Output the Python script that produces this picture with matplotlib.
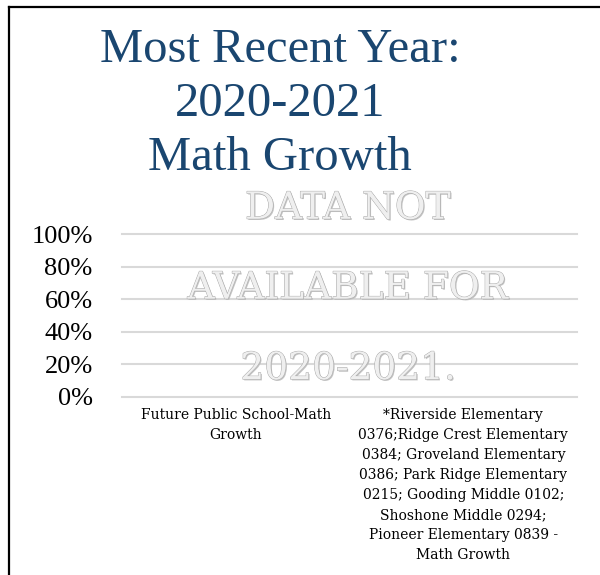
import numpy as np
import matplotlib
matplotlib.use("Agg")
import matplotlib.pyplot as plt
import matplotlib.patheffects as pe
from matplotlib.lines import Line2D

# Data
categories = [
    "Future Public School-Math\nGrowth",
    "*Riverside Elementary\n0376;Ridge Crest Elementary\n0384; Groveland Elementary\n0386; Park Ridge Elementary\n0215; Gooding Middle 0102;\nShoshone Middle 0294;\nPioneer Elementary 0839 -\nMath Growth",
]
values = [np.nan, np.nan]  # no data for this year
y_ticks = [0, 0.2, 0.4, 0.6, 0.8, 1.0]
y_labels = ["0%", "20%", "40%", "60%", "80%", "100%"]
title = "Most Recent Year:\n2020-2021\nMath Growth"
watermark = ["DATA NOT", "AVAILABLE FOR", "2020-2021."]

plt.rcParams["font.family"] = ["Liberation Serif"]

fig = plt.figure(figsize=(6, 5.75), dpi=100)
ax = fig.add_axes([0.203, 0.310, 0.759, 0.283])

x = np.arange(len(categories))
ax.bar(x, values, width=0.5, color="#1f4e79")
ax.set_xlim(-0.5, len(categories) - 0.5)
ax.set_ylim(0, 1.0)
ax.set_yticks(y_ticks)
ax.set_yticklabels(y_labels, fontsize=19)
ax.set_xticks(x)
ax.set_xticklabels(categories, fontsize=10, linespacing=1.55, va="top",
                   family="DejaVu Serif")
ax.tick_params(length=0)
ax.tick_params(axis="x", pad=8)
ax.tick_params(axis="y", pad=21)
ax.yaxis.grid(True, color="#d9d9d9", linewidth=1.5)
for gl in ax.get_ygridlines():
    gl.set_clip_on(False)
ax.set_axisbelow(True)
for s in ax.spines.values():
    s.set_visible(False)

# Title
fig.text(0.467, 0.952, title, ha="center", va="top", fontsize=35,
         color="#1a4670", linespacing=1.3)

# Embossed "no data" watermark
effects = [pe.withSimplePatchShadow(offset=(0.9, -0.9), shadow_rgbFace="#bdbdbd", alpha=0.9),
           pe.withStroke(linewidth=0.7, foreground="#aaaaaa")]
wm_y = [0.637, 0.498, 0.358]
for txt, yy in zip(watermark, wm_y):
    fig.text(0.580, yy, txt, ha="center", va="center", fontsize=27,
             family="DejaVu Serif", color="#efefef", path_effects=effects)

# Outer frame (left and top edges)
fig.add_artist(Line2D([8.5 / 600, 8.5 / 600], [0, 1 - 6.5 / 575], transform=fig.transFigure,
                      color="black", linewidth=1.6))
fig.add_artist(Line2D([8.5 / 600, 1], [1 - 6.5 / 575, 1 - 6.5 / 575], transform=fig.transFigure,
                      color="black", linewidth=1.6))

fig.savefig("out.png", dpi=100)
